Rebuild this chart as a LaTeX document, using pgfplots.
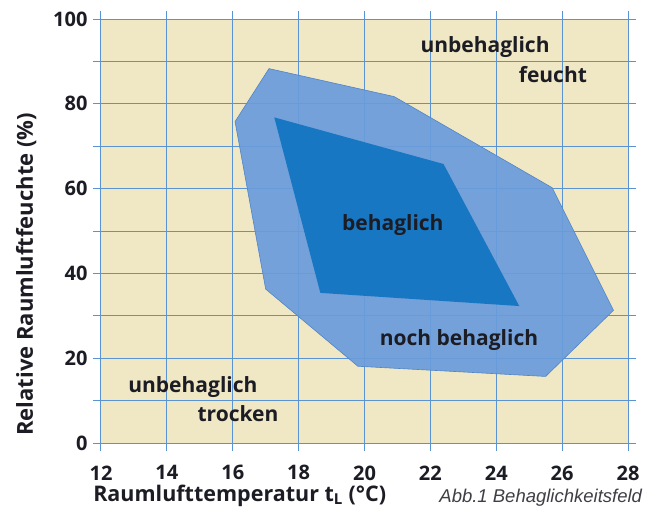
\documentclass[border=0pt]{standalone}
\usepackage{fontspec}
\setmainfont{Open Sans}
\newfontfamily\capfont{Liberation Sans}
\usepackage{pgfplots}
\pgfplotsset{compat=1.18}
\definecolor{beige}{HTML}{F0E8C4}
\definecolor{gridblue}{HTML}{5A93D3}
\definecolor{outerblue}{HTML}{6A9CDB}
\definecolor{outeredge}{HTML}{4F84C8}
\definecolor{innerblue}{HTML}{1877C3}
\definecolor{txt}{HTML}{1C1C24}
\begin{document}
\begin{tikzpicture}
\useasboundingbox (-101pt,-72pt) rectangle (550pt,443pt);
\begin{axis}[
  at={(0,0)}, anchor=south west,
  scale only axis, width=527pt, height=424pt,
  xmin=12, xmax=28, ymin=0, ymax=100,
  xtick={12,14,16,18,20,22,24,26,28}, ytick={0,20,40,60,80,100},
  minor x tick num=0, minor ytick={10,30,50,70,90},
  xmajorgrids=true, xminorgrids=false, ymajorgrids=true, yminorgrids=true,
  major grid style={color=gridblue, line width=1pt},
  minor grid style={color=gridblue, line width=1pt},
  axis line style={draw=none},
  axis background/.style={fill=beige},
  tick align=outside, major tick length=8pt, minor tick length=8pt,
  xtick pos=both, ytick pos=both,
  tick style={color=gridblue, line width=1pt},
  minor tick style={color=gridblue, line width=1pt},
  xticklabel pos=lower, yticklabel pos=left,
  /pgf/number format/assume math mode=true,
  ticklabel style={font=\fontsize{20}{22}\selectfont\bfseries, text=txt},
  xticklabel style={yshift=-11pt},
  yticklabel style={xshift=-2pt},
  clip=false,
]
\addplot[fill=outerblue, draw=outeredge, line width=0.6pt, fill opacity=0.92] coordinates {
  (17.1,88.3) (20.9,81.7) (25.7,60.2) (27.56,31.3) (25.5,15.7) (19.8,18.1) (17.0,36.3) (16.07,75.8)
} -- cycle;
\addplot[fill=innerblue, draw=none] coordinates {
  (17.26,76.8) (22.4,65.8) (24.7,32.3) (18.66,35.4)
} -- cycle;
\begin{scope}[every node/.style={font=\fontsize{21}{23}\selectfont\bfseries, text=txt, inner sep=0pt}]
\node at (axis cs:23.66,93.3) {unbehaglich};
\node at (axis cs:25.72,86.9) {feucht};
\node at (axis cs:20.86,51.5) {behaglich};
\node at (axis cs:22.87,24.3) {noch behaglich};
\node at (axis cs:14.79,13.2) {unbehaglich};
\node at (axis cs:16.16,7.0) {trocken};
\end{scope}
\node[anchor=west, font=\fontsize{21.5}{24}\selectfont\bfseries, text=txt, inner sep=0pt] at (rel axis cs:-0.015,-0.124) {Raumlufttemperatur t\textsubscript{L} (°C)};
\node[rotate=90, font=\fontsize{22}{24}\selectfont\bfseries, text=txt, inner sep=0pt] at (rel axis cs:-0.142,0.398) {Relative Raumluftfeuchte (\%)};
\node[anchor=east, font=\capfont\itshape\fontsize{18.5}{21}\selectfont, text=txt!85, inner sep=0pt] at (rel axis cs:1.027,-0.128) {Abb.1 Behaglichkeitsfeld};
\end{axis}
\end{tikzpicture}
\end{document}
